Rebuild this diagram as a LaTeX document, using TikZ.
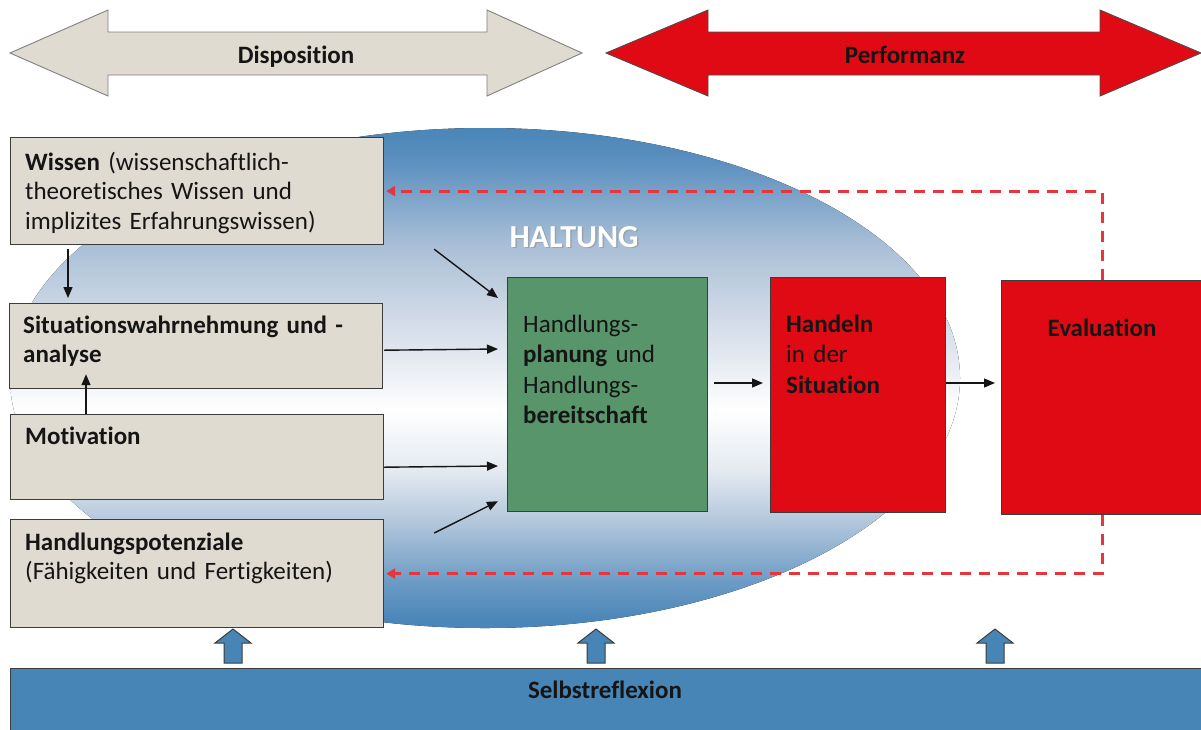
\documentclass[tikz,border=0pt]{standalone}
\usepackage{fontspec}
\setmainfont{Carlito}[Ligatures=NoCommon]
\usetikzlibrary{arrows.meta,calc}
\definecolor{beige}{HTML}{E0DBD0}
\definecolor{bord}{HTML}{3C3C3C}
\definecolor{ink}{HTML}{151515}
\definecolor{hgreen}{HTML}{58956A}
\definecolor{hred}{HTML}{E00A15}
\definecolor{dred}{HTML}{E4363C}
\definecolor{barblue}{HTML}{4685B5}
\definecolor{hb}{HTML}{4A86B8}
\definecolor{ha}{HTML}{6E9CC6}
\definecolor{hc}{HTML}{B4C8DC}
\definecolor{hd}{HTML}{E4EAF1}
\definecolor{he}{HTML}{E0E6EF}
\definecolor{hf}{HTML}{C8D4E3}
\definecolor{hg}{HTML}{A9BFD6}
\definecolor{hh}{HTML}{5B8FBF}
\pgfdeclareverticalshading{haltshade}{100bp}{color(0bp)=(hb); color(25.8bp)=(hb); color(29.8bp)=(ha); color(35.8bp)=(hc); color(40.8bp)=(hd); color(46.8bp)=(white); color(52.8bp)=(he); color(57.8bp)=(hf); color(63.3bp)=(hg); color(71.8bp)=(hh); color(75bp)=(hb); color(100bp)=(hb)}
\begin{document}
\begin{tikzpicture}[x=1pt,y=-1pt,
  box/.style={draw=bord, line width=1.2pt, fill=beige, anchor=north west, inner sep=0pt},
  redbox/.style={draw=bord, line width=1.2pt, fill=hred, anchor=north west, inner sep=0pt},
  txt/.style={inner sep=0pt, anchor=base west, text width=360pt, align=left, font=\fontsize{25}{29.5}\selectfont, text=ink},
  gtxt/.style={txt, font=\fontsize{25}{30.5}\selectfont},
  lbl/.style={inner sep=0pt, anchor=base, font=\bfseries\fontsize{25}{30}\selectfont, text=ink},
  arr/.style={-{Triangle[length=11pt,width=9pt]}, line width=1.4pt, draw=ink},
  dasharr/.style={-{Triangle[length=9pt,width=10pt]}, draw=dred, line width=2.8pt, dash pattern=on 11pt off 8pt},
  uparr/.style={draw=bord, line width=1pt, fill=barblue, line join=miter},
  dispshape/.style={draw=black!50, line width=0.9pt, fill=beige},
  perfshape/.style={draw=black!70, line width=0.9pt, fill=hred}
]
\useasboundingbox (0,0) rectangle (1201,729);

% ellipse HALTUNG
\fill[shading=haltshade] (485,378) ellipse [x radius=475, y radius=250];

% top double arrows
\draw[dispshape] (10,53) -- (108,10) -- (108,32) -- (487,32) -- (487,10) -- (582,53) -- (487,96) -- (487,75) -- (108,75) -- (108,96) -- cycle;
\node[lbl] (dispT) at (296,63) {Disposition};
\draw[perfshape] (606,53) -- (708,10) -- (708,32) -- (1100,32) -- (1100,10) -- (1201,53) -- (1100,96) -- (1100,75) -- (708,75) -- (708,96) -- cycle;
\node[lbl] (perfT) at (905,63) {Performanz};

% HALTUNG label
\node[inner sep=0pt, anchor=base, font=\bfseries\fontsize{32}{32}\selectfont, text=black!45, opacity=0.5] (haltS) at (575.5,248.5) {HALTUNG};
\node[inner sep=0pt, anchor=base, font=\bfseries\fontsize{32}{32}\selectfont, text=white] (haltT) at (574,247) {HALTUNG};

% left boxes
\node[box, minimum width=373pt, minimum height=107pt] (wissen) at (10,137) {};
\node[txt] (wissenT) at (25,170) {\textbf{Wissen} (wissenschaftlich-\\theoretisches Wissen und\\implizites Erfahrungswissen)};
\node[box, minimum width=373pt, minimum height=85pt] (sit) at (9,303) {};
\node[txt] (sitT) at (23,333) {\textbf{Situationswahrnehmung und -}\\\textbf{analyse}};
\node[box, minimum width=373pt, minimum height=85pt] (motiv) at (10,414) {};
\node[txt] (motivT) at (25,444) {\textbf{Motivation}};
\node[box, minimum width=373pt, minimum height=108pt] (hpot) at (10,519) {};
\node[txt] (hpotT) at (25,550) {\textbf{Handlungspotenziale}\\(Fähigkeiten und Fertigkeiten)};

% middle and right boxes
\node[draw=bord, line width=1.2pt, fill=hgreen, anchor=north west, inner sep=0pt, minimum width=200pt, minimum height=234pt] (green) at (507,277) {};
\node[gtxt] (greenT) at (523,332) {Handlungs-\\\textbf{planung} und\\Handlungs-\\\textbf{bereitschaft}};
\node[redbox, minimum width=175pt, minimum height=235pt] (handeln) at (770,277) {};
\node[gtxt] (handelnT) at (786,332) {\textbf{Handeln}\\in der\\\textbf{Situation}};
\node[redbox, minimum width=201pt, minimum height=234pt] (eval) at (1001,280) {};
\node[lbl] (evalT) at (1102,336) {Evaluation};

% bottom bar
\node[anchor=north west, minimum width=1194pt, minimum height=64pt, fill=barblue, draw=bord, line width=1.2pt, inner sep=0pt] (bar) at (10,668) {};
\node[lbl] (barT) at (605,698) {Selbstreflexion};
\foreach \x in {233,596,995}
  \draw[uparr] (\x,629) -- ++(18,14) -- ++(-9,0) -- ++(0,20) -- ++(-18,0) -- ++(0,-20) -- ++(-9,0) -- cycle;

% connectors
\draw[arr] ($(wissen.south west)+(58,4)$) -- ($(sit.north west)+(59,-5)$);
\draw[arr] ($(motiv.north west)+(76,0)$) -- ($(sit.south west)+(77,-15)$);
\draw[arr] ($(wissen.south east)+(50,4)$) -- ($(green.north west)+(-9,21)$);
\draw[arr] ($(sit.south east)+(1,-39)$) -- ($(green.north west)+(-9,72)$);
\draw[arr] ($(motiv.south east)+(0,-33)$) -- ($(green.north west)+(-9,189)$);
\draw[arr] ($(hpot.north east)+(50,14)$) -- ($(green.south west)+(-9,-11)$);
\draw[arr] ($(green.north east)+(6,106)$) -- ($(handeln.north west)+(-7,106)$);
\draw[arr] ($(handeln.north east)+(0,106)$) -- ($(eval.north west)+(-6,103)$);
\draw[dasharr] (eval.north) |- ([xshift=2pt]wissen.east);
\draw[dasharr] (eval.south) |- ([xshift=2pt]hpot.east);
\end{tikzpicture}
\end{document}
